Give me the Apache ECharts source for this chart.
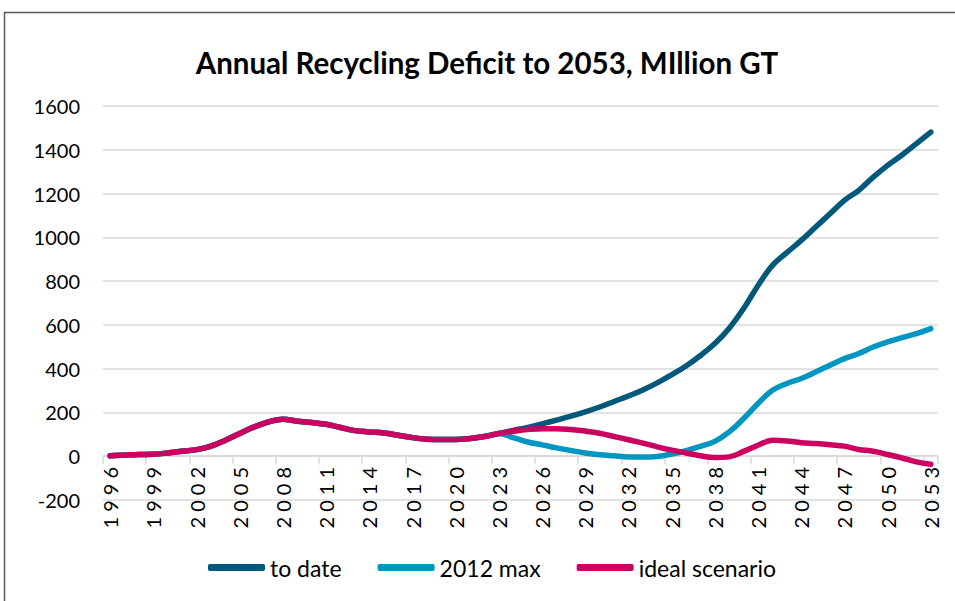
<!DOCTYPE html>
<html>
<head>
<meta charset="utf-8">
<script src="https://cdn.jsdelivr.net/npm/echarts@6/dist/echarts.min.js"></script>
<style>
html,body{margin:0;padding:0;background:#fff;}
#c{width:955px;height:601px;}
/* rotated x-axis year labels are letter-spaced in the reference */
#c svg text[transform^="matrix(0,-1"]{letter-spacing:5px;}
</style>
</head>
<body>
<div id="c"></div>
<script>
const years = [];
for (let y = 1996; y <= 2053; y++) years.push(String(y));

// shared history 1996-2023
const history = [2,5,8,9,15,23,30,46,73,104,134,157,169,160,154,146,131,117,111,106,96,85,78,76,76,81,90,104];

const toDateFuture = [118,132,148,165,183,203,225,250,275,303,335,372,412,460,515,585,675,780,872,930,986,1047,1108,1169,1215,1275,1329,1376,1428,1481];
const max2012Future = [85,65,52,38,26,15,7,2,-3,-4,-1,10,25,45,68,111,172,241,301,332,355,385,416,446,469,499,522,542,560,583];
const idealFuture = [114,122,126,126,122,115,105,90,75,60,43,28,15,2,-6,-3,22,50,73,70,62,58,52,46,31,23,8,-8,-26,-37];

const toDate = history.concat(toDateFuture);
const max2012 = history.concat(max2012Future);
const ideal = history.concat(idealFuture);

const yTicks = [-200,0,200,400,600,800,1000,1200,1400,1600];

const FONT = 'Lato, "Noto Sans", sans-serif';
const chart = echarts.init(document.getElementById('c'), null, { renderer: 'svg' });
const mkSeries = (name, data, color) => ({
  name, type: 'line', data, smooth: 0.4, symbol: 'none',
  lineStyle: { color, width: 5.5, cap: 'round', join: 'round' },
  itemStyle: { color }
});
chart.setOption({
  animation: false,
  graphic: [{
    type: 'rect', shape: { x: 4.5, y: 12.5, width: 970, height: 620 },
    style: { fill: 'none', stroke: '#595959', lineWidth: 1.5 }, silent: true
  }],
  title: {
    text: 'Annual Recycling Deficit to 2053, MIllion GT',
    left: 482, top: 42, textAlign: 'center',
    textStyle: { fontFamily: FONT, fontWeight: 'bold', fontSize: 29.5, color: '#000' }
  },
  legend: {
    left: 203, top: 551, itemWidth: 57, itemHeight: 7, itemGap: 36, icon: 'roundRect',
    textStyle: { fontFamily: FONT, fontSize: 23, color: '#000' },
    data: ['to date', '2012 max', 'ideal scenario']
  },
  grid: { left: 103, right: 17, top: 106, bottom: 101, containLabel: false },
  xAxis: {
    type: 'category', data: years, boundaryGap: true,
    axisLine: { onZero: true, lineStyle: { color: '#d9d9d9', width: 1.5 } },
    axisTick: { show: true, interval: 2, length: 8, lineStyle: { color: '#d9d9d9', width: 1.5 } },
    axisLabel: { interval: 2, rotate: 90, margin: -38, fontFamily: FONT, fontSize: 20, color: '#000' },
    splitLine: { show: false }
  },
  yAxis: {
    type: 'value', min: -200, max: 1600, interval: 200,
    axisLine: { show: false }, axisTick: { show: false },
    axisLabel: { margin: 23, fontFamily: FONT, fontSize: 20, color: '#000',
      formatter: v => yTicks.includes(v) ? String(v) : '' },
    splitLine: { lineStyle: { color: '#d9d9d9', width: 1.5 } }
  },
  series: [
    mkSeries('to date', toDate, '#00587a'),
    mkSeries('2012 max', max2012, '#0096c2'),
    mkSeries('ideal scenario', ideal, '#cc0060')
  ]
});
</script>
</body>
</html>
